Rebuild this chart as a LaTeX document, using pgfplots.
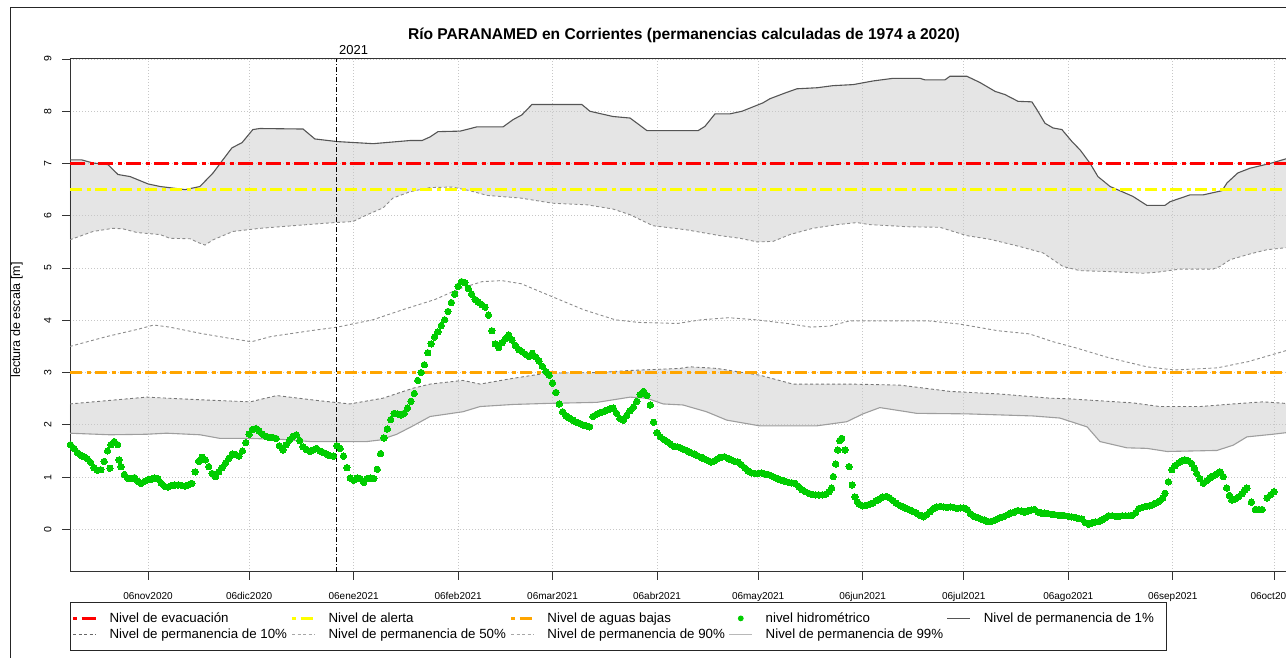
\documentclass[border=0pt]{standalone}
\usepackage{fontspec}
\setmainfont{Liberation Sans}
\usepackage{pgfplots}
\pgfplotsset{compat=1.18}
\usepackage{pgfplotstable}
\usepgfplotslibrary{fillbetween}

\definecolor{band}{HTML}{E5E5E5}
\definecolor{obs}{HTML}{00CD00}
\definecolor{evac}{HTML}{FF0000}
\definecolor{alerta}{HTML}{FFFF00}
\definecolor{bajas}{HTML}{FFA500}
\definecolor{gone}{HTML}{555555}
\definecolor{gten}{HTML}{8C8C8C}
\definecolor{gfifty}{HTML}{8C8C8C}
\definecolor{gninety}{HTML}{777777}
\definecolor{gnn}{HTML}{9E9E9E}

\pgfplotstableread{
d y
-23.2 7.07
-19.7 7.07
-16.3 7.01
-11.9 6.98
-8.9 6.79
-5.3 6.75
0 6.61
3.6 6.56
7.4 6.53
11.0 6.50
15.4 6.56
19.3 6.82
22.2 7.07
24.9 7.30
27.9 7.40
31.1 7.65
33.2 7.67
46.0 7.66
49.5 7.47
56.1 7.42
66.8 7.38
77.7 7.44
81.3 7.44
83.7 7.51
86.0 7.61
92.6 7.62
97.5 7.70
105.3 7.70
108.3 7.84
110.9 7.93
113.9 8.13
128.7 8.13
131.1 8.00
137.9 7.90
143.0 7.87
145.1 7.77
148.0 7.63
163.2 7.63
165.2 7.71
168.2 7.95
172.6 7.95
176.2 8.00
182.4 8.16
184.5 8.24
189.0 8.35
192.5 8.43
198.5 8.45
203.2 8.49
209.2 8.51
215.1 8.58
221.0 8.63
229.0 8.63
230.5 8.60
236.4 8.60
237.9 8.67
242.9 8.67
246.8 8.55
251.3 8.38
254.2 8.32
258.1 8.19
262.2 8.18
263.7 8.03
266.1 7.77
268.5 7.68
271.1 7.65
274.1 7.42
276.5 7.26
279.4 7.01
281.8 6.75
285.4 6.56
288.3 6.48
292.2 6.37
296.3 6.20
301.7 6.20
303.2 6.27
309.1 6.40
313.0 6.40
318.6 6.48
320.1 6.63
323.3 6.82
326.9 6.91
332.8 7.00
337.6 7.09
341.2 7.14
}\pone

\pgfplotstableread{
d y
-23.2 5.54
-16.3 5.70
-10.4 5.76
-7.4 5.75
-3.3 5.68
3.6 5.64
6.5 5.57
12.5 5.56
14.8 5.49
16.9 5.44
19.3 5.54
25.2 5.70
33.2 5.76
43.0 5.81
53.1 5.86
60.8 5.89
65.0 6.02
69.7 6.15
72.7 6.34
77.7 6.46
83.7 6.54
90.2 6.55
95.5 6.48
100.6 6.39
110.4 6.34
120.1 6.24
130.2 6.21
137.9 6.13
143.0 6.02
149.8 5.81
159.9 5.73
169.7 5.62
175.6 5.57
180.7 5.50
185.4 5.51
190.4 5.64
197.2 5.76
204.4 5.83
210.3 5.87
214.2 5.83
220.1 5.81
225.2 5.79
234.9 5.78
242.9 5.62
249.8 5.55
258.7 5.41
265.5 5.29
271.4 5.03
276.5 4.95
286.3 4.93
295.2 4.90
299.3 4.92
306.1 4.98
315.9 4.98
318.0 5.03
321.0 5.16
326.9 5.27
331.9 5.35
337.6 5.39
341.2 5.41
}\pten

\pgfplotstableread{
d y
-23.2 3.50
-12.2 3.69
-2.9 3.83
1.7 3.91
6.4 3.87
15.6 3.75
23.8 3.66
30.7 3.59
36.5 3.69
48.1 3.80
56.2 3.87
66.7 4.01
75.9 4.21
85.2 4.40
92.2 4.60
99.1 4.74
104.9 4.76
110.7 4.70
120.0 4.45
129.3 4.20
138.6 4.01
145.5 3.96
157.1 3.94
164.1 4.01
172.2 4.05
180.3 4.01
189.6 3.94
196.6 3.87
202.3 3.89
208.2 3.99
217.4 3.99
231.3 3.99
240.6 3.93
252.2 3.80
261.5 3.74
268.5 3.59
275.4 3.47
284.7 3.29
296.3 3.11
304.4 3.05
317.2 3.09
326.4 3.21
337.6 3.42
341.2 3.47
}\pfifty

\pgfplotstableread{
d y
-23.2 2.40
-0.4 2.53
15.4 2.48
30.3 2.44
38.2 2.56
51.0 2.46
59.9 2.40
69.7 2.51
78.6 2.70
83.7 2.78
93.4 2.85
98.5 2.78
108.3 2.89
118.4 2.99
133.2 3.00
143.0 3.04
157.8 3.08
160.8 3.11
168.7 3.08
181.5 2.95
191.3 2.78
208.2 2.78
223.1 2.76
237.9 2.64
252.7 2.59
267.6 2.51
272.6 2.50
292.2 2.42
300.2 2.35
312.1 2.35
321.9 2.40
330.8 2.44
337.6 2.41
341.2 2.42
}\pninety

\pgfplotstableread{
d y
-23.2 1.84
-11.3 1.81
-0.4 1.82
5.5 1.84
15.4 1.81
21.4 1.74
30.3 1.74
40.0 1.72
48.1 1.68
64.9 1.68
68.8 1.71
73.8 1.82
78.6 1.98
83.7 2.16
93.4 2.25
98.5 2.35
108.3 2.39
118.4 2.41
133.2 2.43
143.0 2.53
147.9 2.51
152.8 2.40
158.7 2.38
165.7 2.25
171.7 2.09
181.5 1.98
198.3 1.98
207.3 2.06
212.1 2.21
217.1 2.33
225.1 2.25
228.0 2.22
242.9 2.21
262.5 2.17
270.5 2.13
278.6 1.96
282.4 1.68
290.4 1.56
296.3 1.55
302.3 1.49
317.1 1.51
321.9 1.61
326.0 1.77
333.7 1.82
337.6 1.85
341.2 1.86
}\pnn

\pgfplotstableread{
d y
-23 1.62
-22 1.55
-21 1.47
-20 1.42
-19 1.39
-18 1.35
-17 1.28
-16 1.18
-15 1.13
-14 1.14
-13 1.30
-12 1.50
-11 1.62
-10 1.68
-9 1.62
-11.3 1.17
-8.6 1.33
-8 1.20
-7 1.05
-6 0.98
-5 0.97
-4 0.99
-3 0.92
-2 0.88
-1 0.92
0 0.95
1 0.96
2 0.98
3 0.96
4 0.88
5 0.82
6 0.81
7 0.84
8 0.85
9 0.85
10 0.84
11 0.83
12 0.85
13 0.88
14 1.10
15 1.30
16 1.38
17 1.33
18 1.20
19 1.07
20 1.01
21 1.10
22 1.18
23 1.27
24 1.36
25 1.44
26 1.43
27 1.40
28 1.50
29 1.66
30 1.82
31 1.91
32 1.93
33 1.88
34 1.82
35 1.78
36 1.76
37 1.76
38 1.74
39 1.60
40 1.52
41 1.62
42 1.71
43 1.78
44 1.81
45 1.70
46 1.58
47 1.53
48 1.49
49 1.52
50 1.55
51 1.50
52 1.47
53 1.44
54 1.41
55 1.40
56 1.60
57 1.55
58 1.40
59 1.18
60 0.98
61 0.94
62 0.98
63 0.97
64 0.90
65 0.97
66 0.98
67 0.97
68 1.15
69 1.45
70 1.75
71 1.92
72 2.10
73 2.22
74 2.21
75 2.19
76 2.22
77 2.32
78 2.45
79 2.60
80 2.85
81 3.00
82 3.15
83 3.38
84 3.55
85 3.68
86 3.78
87 3.90
88 4.01
89 4.17
90 4.34
91 4.50
92 4.65
93 4.74
94 4.72
95 4.61
96 4.50
97 4.40
98 4.35
99 4.30
100 4.25
101 4.10
102 3.80
103 3.55
104 3.48
105 3.57
106 3.65
107 3.72
108 3.62
109 3.52
110 3.44
111 3.40
112 3.35
113 3.31
114 3.37
115 3.30
116 3.22
117 3.12
118 3.02
119 2.95
120 2.80
121 2.62
122 2.40
123 2.25
124 2.17
125 2.13
126 2.09
127 2.05
128 2.03
129 2.00
130 1.98
131 1.96
132 2.16
133 2.20
134 2.23
135 2.25
136 2.28
137 2.30
138 2.32
139 2.22
140 2.12
141 2.09
142 2.18
143 2.27
144 2.34
145 2.45
146 2.58
147 2.64
148 2.56
149 2.38
150 2.05
151 1.85
152 1.77
153 1.72
154 1.68
155 1.63
156 1.59
157 1.58
158 1.56
159 1.53
160 1.50
161 1.47
162 1.44
163 1.41
164 1.38
165 1.35
166 1.32
167 1.29
168 1.31
169 1.35
170 1.38
171 1.39
172 1.36
173 1.33
174 1.30
175 1.29
176 1.24
177 1.18
178 1.12
179 1.08
180 1.07
181 1.07
182 1.08
183 1.06
184 1.05
185 1.02
186 0.99
187 0.96
188 0.94
189 0.92
190 0.90
191 0.89
192 0.88
193 0.82
194 0.76
195 0.72
196 0.69
197 0.67
198 0.66
199 0.66
200 0.66
201 0.67
202 0.72
202.8 0.79
203.3 1.01
204.0 1.25
204.6 1.52
205.2 1.70
205.8 1.74
206.8 1.52
208.0 1.20
208.9 0.85
209.7 0.62
210.5 0.52
211 0.48
212 0.45
213 0.46
214 0.48
215 0.50
216 0.55
217 0.58
218 0.62
219 0.63
220 0.60
221 0.55
222 0.50
223 0.46
224 0.43
225 0.40
226 0.37
227 0.34
228 0.31
229 0.27
230 0.24
231 0.28
232 0.34
233 0.40
234 0.43
235 0.44
236 0.43
237 0.42
238 0.43
239 0.42
240 0.40
241 0.41
242 0.41
243 0.38
244 0.30
245 0.25
246 0.23
247 0.20
248 0.18
249 0.15
250 0.15
251 0.17
252 0.20
253 0.23
254 0.25
255 0.28
256 0.31
257 0.33
258 0.36
259 0.35
260 0.33
261 0.35
262 0.37
263 0.38
264 0.33
265 0.31
266 0.31
267 0.30
268 0.29
269 0.28
270 0.27
271 0.27
272 0.26
273 0.25
274 0.24
275 0.23
276 0.21
277 0.20
278 0.13
279 0.10
280 0.12
281 0.14
282 0.15
283 0.18
284 0.22
285 0.26
286 0.26
287 0.25
288 0.25
289 0.26
290 0.26
291 0.26
292 0.27
293 0.32
294 0.40
295 0.42
296 0.44
297 0.45
298 0.47
299 0.50
300 0.54
301 0.60
301.7 0.69
302.7 0.91
303.7 1.14
304.7 1.22
305.7 1.27
306.7 1.31
307.6 1.33
308.6 1.31
309.6 1.26
310.4 1.17
311.1 1.07
312 0.97
313.1 0.88
314 0.93
315 0.98
316 1.02
317 1.06
318 1.10
319 1.01
320 0.79
320.8 0.65
321.5 0.56
322.5 0.58
323.5 0.62
324.5 0.68
325.3 0.75
326 0.79
327.3 0.52
328.5 0.38
329.5 0.38
330.5 0.38
332 0.60
333 0.66
334 0.72
}\obsdata

\pgfplotsset{
  leg evac/.style={legend image code/.code={\draw[evac, line width=3pt, dash pattern=on 4pt off 4.5pt on 14pt off 4.5pt] (0pt,0pt)--(23pt,0pt); \path (36pt,0pt);}},
  leg alerta/.style={legend image code/.code={\draw[alerta, line width=2.6pt, dash pattern=on 4pt off 4.5pt on 12pt off 4.5pt] (0pt,0pt)--(23pt,0pt); \path (36pt,0pt);}},
  leg bajas/.style={legend image code/.code={\draw[bajas, line width=2.6pt, dash pattern=on 4pt off 4.5pt on 12pt off 4.5pt] (0pt,0pt)--(23pt,0pt); \path (36pt,0pt);}},
  leg obs/.style={legend image code/.code={\fill[obs] (11.5pt,0pt) circle (2.4pt); \path (0pt,0pt) (36pt,0pt);}},
  leg one/.style={legend image code/.code={\draw[gone, line width=1pt] (0pt,0pt)--(23pt,0pt); \path (36pt,0pt);}},
  leg ten/.style={legend image code/.code={\draw[black!60, line width=1pt, dash pattern=on 3pt off 2.5pt] (0pt,0pt)--(23pt,0pt); \path (36pt,0pt);}},
  leg fifty/.style={legend image code/.code={\draw[black!35, line width=1pt, dash pattern=on 3pt off 2.5pt] (0pt,0pt)--(23pt,0pt); \path (36pt,0pt);}},
  leg ninety/.style={legend image code/.code={\draw[black!35, line width=1pt, dash pattern=on 3pt off 2.5pt] (0pt,0pt)--(23pt,0pt); \path (36pt,0pt);}},
  leg nn/.style={legend image code/.code={\draw[black!28, line width=1.2pt] (0pt,0pt)--(23pt,0pt); \path (36pt,0pt);}},
}

\newcommand{\lt}[1]{\makebox[181.2pt][l]{#1}}

\begin{document}
\begin{tikzpicture}[x=1pt,y=1pt]
\draw[black!85, line width=1pt] (10.5,-5) -- (10.5,649) -- (1300,649);
\node[anchor=base, font=\bfseries\fontsize{15.6}{18}\selectfont, inner sep=0pt] at (684,617) {Río PARANAMED en Corrientes (permanencias calculadas de 1974 a 2020)};
\begin{axis}[
  at={(70pt,85.3pt)}, anchor=south west,
  scale only axis, width=1228pt, height=512.7pt,
  xmin=-23.14, xmax=341.15, ymin=-0.81, ymax=9.0,
  xtick={0,30,61,92,120,151,181,212,242,273,304,334},
  xticklabels={06nov2020,06dic2020,06ene2021,06feb2021,06mar2021,06abr2021,06may2021,06jun2021,06jul2021,06ago2021,06sep2021,06oct2021},
  ytick={0,1,...,9},
  xtick pos=bottom, ytick pos=left, tick align=outside,
  major tick length=8pt,
  tick style={black!80, line width=0.8pt},
  xmajorgrids, ymajorgrids,
  grid style={black!22, dash pattern=on 1pt off 2pt, line width=0.8pt},
  axis line style={black!80, line width=1pt},
  xticklabel style={font=\fontsize{10}{12}\selectfont, anchor=base, yshift=-20pt},
  yticklabel style={font=\fontsize{10.5}{12}\selectfont, xshift=-10.5pt, rotate=90, anchor=base},
  /pgf/number format/assume math mode=true,
  set layers,
  legend columns=5,
  legend style={at={(0,-0.0591)}, anchor=north west, draw=black!85, line width=0.9pt, fill=white,
    inner xsep=1.2pt, inner ysep=8.2pt,
    font=\fontsize{13.3}{16}\selectfont,
    nodes={inner sep=0pt, text height=11.5pt, text depth=4pt},
    row sep=0.5pt, column sep=0pt},
]
\addlegendimage{leg evac}\addlegendentry{\lt{Nivel de evacuación}}
\addlegendimage{leg alerta}\addlegendentry{\lt{Nivel de alerta}}
\addlegendimage{leg bajas}\addlegendentry{\lt{Nivel de aguas bajas}}
\addlegendimage{leg obs}\addlegendentry{\lt{nivel hidrométrico}}
\addlegendimage{leg one}\addlegendentry{\lt{Nivel de permanencia de 1\%}}
\addlegendimage{leg ten}\addlegendentry{\lt{Nivel de permanencia de 10\%}}
\addlegendimage{leg fifty}\addlegendentry{\lt{Nivel de permanencia de 50\%}}
\addlegendimage{leg ninety}\addlegendentry{\lt{Nivel de permanencia de 90\%}}
\addlegendimage{leg nn}\addlegendentry{\lt{Nivel de permanencia de 99\%}}

\addplot[gone, line width=1.1pt, name path=pone, forget plot] table {\pone};
\addplot[gten, line width=0.9pt, dash pattern=on 3pt off 2.5pt, name path=pten, forget plot] table {\pten};
\addplot[gninety, line width=0.9pt, dash pattern=on 3pt off 2.5pt, name path=pninety, forget plot] table {\pninety};
\addplot[gnn, line width=1.1pt, name path=pnn, forget plot] table {\pnn};
\addplot[band, forget plot] fill between[of=pone and pten, on layer=axis background];
\addplot[band, forget plot] fill between[of=pninety and pnn, on layer=axis background];
\addplot[gfifty, line width=0.9pt, dash pattern=on 3pt off 2.5pt, forget plot] table {\pfifty};

\addplot[evac, line width=3pt, dash pattern=on 15pt off 4.5pt on 4pt off 4.5pt, forget plot] coordinates {(-23.14,7) (341.15,7)};
\addplot[alerta, line width=2.6pt, dash pattern=on 12pt off 4.5pt on 4pt off 4.5pt, forget plot] coordinates {(-23.14,6.5) (341.15,6.5)};
\addplot[bajas, line width=2.6pt, dash pattern=on 12pt off 4.5pt on 4pt off 4.5pt, forget plot] coordinates {(-23.14,3) (341.15,3)};
\addplot[black, line width=0.7pt, dash pattern=on 5pt off 2pt on 1pt off 2pt, forget plot] coordinates {(56,-0.81) (56,9)};

\addplot[only marks, mark=*, mark size=3.2pt, mark options={fill=obs, draw=obs, line width=0pt}, forget plot] table {\obsdata};
\end{axis}
\node[anchor=base west, font=\fontsize{13}{15}\selectfont, inner sep=0pt] at (339,602) {2021};
\node[rotate=90, font=\fontsize{12.5}{15}\selectfont, inner sep=0pt] at (17,337) {lectura de escala [m]};
\pgfresetboundingbox
\useasboundingbox (0,0) rectangle (1286,657);
\end{tikzpicture}
\end{document}
